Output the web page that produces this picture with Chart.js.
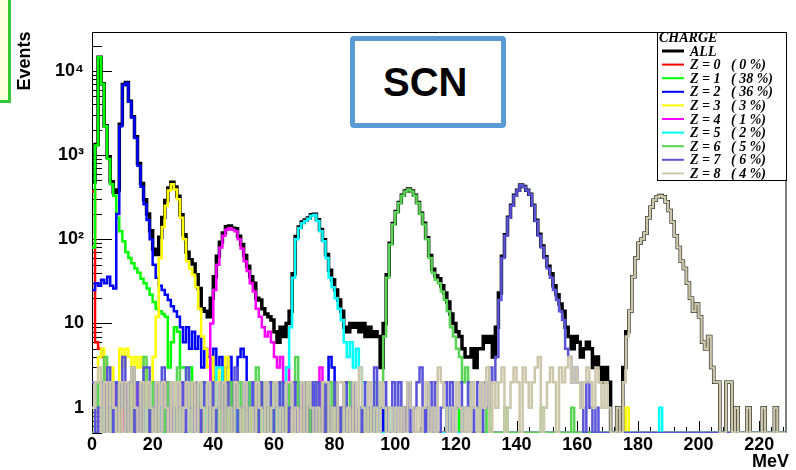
<!DOCTYPE html>
<html>
<head>
<meta charset="utf-8">
<script src="https://cdn.jsdelivr.net/npm/chart.js@4.4.1/dist/chart.umd.min.js"></script>
<style>
  html, body { margin: 0; padding: 0; background: #fff; }
  #wrap { position: relative; width: 796px; height: 470px; overflow: hidden; }
  #chart { position: absolute; left: 0; top: 0; }
  .tag { position: absolute; left: -20px; top: -20px; width: 25px; height: 117px; border: 3px solid #36c836; background: #ffffe0; }
  .scn { position: absolute; left: 350px; top: 36px; width: 146px; height: 82px; border: 5px solid #5b9bd5; border-radius: 4px; background: #fff; }
  .scn span { position: absolute; left: 28px; top: 21px; font: bold 40px 'Liberation Sans', Arial, sans-serif; line-height: 40px; color: #000; }
</style>
</head>
<body>
<div id="wrap">
  <canvas id="chart" width="796" height="470"></canvas>
  <div class="tag"></div>
  <div class="scn"><span>SCN</span></div>
</div>
<script>
// 1 MeV bins, 0..229 MeV
const NBINS = 229;
const Y_MIN = 0.5;
const Y_MAX = 29000;

const xTickValues = [0, 20, 40, 60, 80, 100, 120, 140, 160, 180, 200, 220];
const yTickValues = [1, 10, 100, 1000, 10000];
const yTickLabels = ['1', '10', '10²', '10³', '10⁴'];

const seriesNames = ['ALL', 'Z = 0', 'Z = 1', 'Z = 2', 'Z = 3', 'Z = 4', 'Z = 5', 'Z = 6', 'Z = 7', 'Z = 8'];
const seriesShares = ['', '( 0 %)', '( 38 %)', '( 36 %)', '( 3 %)', '( 1 %)', '( 2 %)', '( 5 %)', '( 6 %)', '( 4 %)'];
const seriesColors = ['#000000', '#ff0000', '#00ff00', '#0000ff', '#ffff00', '#ff00ff', '#00ffff', '#59d454', '#5954d9', '#ccc6aa'];

// counts per bin (bins not listed are empty)
const countsAll = [
  480, 1340, 14540, 7040, 2235, 940, 482, 360, 385, 2330, 6900, 7280, 4370, 2860, 1650, 795, 460, 295, 200, 126,
  76, 66, 106, 182, 288, 406, 476, 417, 324, 196, 113, 70, 57, 51, 38, 26, 15, 14, 12, 20,
  36, 63, 92, 119, 141, 144, 135, 133, 109, 87, 64, 48, 36, 30, 20, 19, 15, 13, 12, 11,
  8, 6, 9, 7, 10, 14, 39, 108, 140, 161, 170, 179, 196, 199, 171, 131, 99, 66, 43, 33,
  25, 19, 14, 9, 8, 10, 9, 10, 8, 10, 7, 9, 7, 8, 7, 3, 10, 38, 90, 154,
  214, 274, 334, 374, 395, 374, 334, 274, 204, 155, 104, 64, 44, 37, 34, 28, 23, 18, 13, 10,
  8, 7, 5, 4, 4, 5, 3, 5, 5, 7, 6, 7, 4, 9, 23, 63, 113, 183, 253, 333,
  383, 443, 423, 383, 343, 253, 168, 115, 83, 62, 48, 39, 28, 22, 17, 14, 9, 7, 5, 7,
  6, 4, 5, 6, 5, 3, 4, 3, 2, 3, 2, 0, 0, 1, 0, 3, 8, 14, 36, 60,
  90, 100, 118, 180, 240, 290, 320, 331, 320, 280, 220, 160, 110, 80, 55, 45, 30, 20, 14, 17,
  12, 6, 5, 7, 3, 2, 2, 0, 0, 2, 2, 0, 1, 0, 0, 0, 1, 0, 0, 0,
  0, 1, 0, 0, 0, 1, 0, 0, 0
];
const countsZ0 = [370, 6, 5, 4, 1, 0, 1, 0, 0, 1, 0, 0, 0, 1];
const countsZ1 = [
  80, 1300, 14500, 7000, 2200, 900, 450, 330, 180, 125, 95, 70, 60, 52, 45, 40, 34, 30, 26, 22,
  18, 15, 14, 13, 12, 3, 6, 9, 8, 3, 3, 2, 3, 1, 2, 0, 1, 0, 1, 0,
  0, 1, 0, 0, 1, 0, 0, 0, 1, 0, 0, 0, 1, 0, 0, 0, 0, 1, 0, 0,
  0, 0, 0, 1, 0, 0, 0, 0, 0, 0, 1, 0, 0, 0, 0, 0, 0, 0, 1, 0,
  0, 0, 0, 0, 0, 0, 0, 0, 0, 0, 0, 0, 0, 0, 0, 0, 1, 0, 0, 0,
  0, 0, 0, 0, 0, 0, 0, 0, 0, 0, 0, 0, 0, 0, 0, 0, 0, 0, 0, 0,
  0, 1, 0, 0, 0, 0, 0, 0, 0, 0, 1
];
const countsZ2 = [
  25, 30, 28, 33, 30, 36, 28, 26, 200, 2200, 6800, 7200, 4300, 2800, 1600, 750, 420, 260, 170, 100,
  50, 35, 28, 25, 22, 19, 16, 14, 12, 9, 6, 9, 5, 8, 5, 7, 3, 5, 4, 2,
  5, 3, 4, 2, 3, 4, 1, 2, 4, 5, 4, 2, 1, 2, 0, 1, 2, 1, 0, 1,
  0, 2, 1, 0, 1, 0, 0, 2, 1, 0, 1, 0, 2, 0, 1, 0, 0, 1, 4, 3,
  1, 0, 0, 1, 0, 0, 2, 0, 0, 1, 0, 0, 1, 0, 0, 0, 1, 0, 0, 0,
  0, 0, 0, 1, 0, 0, 0, 0, 0, 0, 1, 0, 0, 0, 0, 0, 0, 0, 1
];
const countsZ3 = [
  0, 1, 4, 5, 2, 1, 3, 0, 2, 5, 3, 5, 4, 1, 4, 3, 4, 3, 1, 2,
  4, 12, 60, 140, 250, 380, 450, 390, 300, 180, 100, 55, 45, 38, 27, 15, 7, 5, 3, 4,
  2, 3, 1, 2, 4, 1, 0, 2, 1, 0, 1, 0, 1, 0, 0, 2, 0, 1, 0, 0,
  1, 0, 0, 0, 1, 0, 0, 0, 0, 1, 0, 0, 0, 0, 0, 0, 1, 0, 0, 0,
  0, 0, 0, 0, 0, 0, 0, 0, 0, 0, 0, 1, 0, 0, 0, 0, 0, 0, 0, 0,
  0, 0, 0, 0, 0, 0, 0, 0, 0, 0, 0, 0, 0, 0, 0, 0, 0, 0, 0, 0,
  0, 0, 0, 0, 0, 0, 0, 0, 0, 0, 0, 0, 0, 0, 0, 0, 0, 0, 0, 0,
  0, 0, 0, 0, 0, 0, 0, 0, 0, 0, 0, 0, 0, 0, 0, 0, 0, 0, 0, 0,
  0, 0, 0, 0, 0, 0, 0, 0, 0, 0, 0, 0, 0, 0, 0, 0, 1
];
const countsZ4 = [
  0, 0, 1, 0, 2, 1, 0, 2, 0, 0, 2, 0, 1, 0, 2, 0, 1, 0, 0, 1,
  0, 2, 0, 0, 2, 0, 1, 0, 0, 2, 1, 0, 0, 2, 0, 1, 0, 0, 1, 10,
  25, 50, 80, 110, 130, 135, 130, 125, 100, 78, 55, 42, 30, 24, 15, 12, 9, 7, 8, 6,
  4, 3, 4, 2, 3, 1, 0, 1, 0, 2, 0, 1, 0, 0, 1, 3, 0, 2, 0, 0,
  0, 1, 0, 0, 0, 0, 1, 0, 0, 0, 0, 1
];
const countsZ5 = [
  0, 0, 0, 1, 0, 0, 1, 0, 0, 0, 0, 1, 0, 0, 0, 0, 0, 1, 0, 0,
  0, 0, 1, 0, 0, 0, 0, 0, 1, 0, 0, 0, 1, 0, 0, 0, 0, 1, 0, 0,
  0, 3, 3, 1, 0, 0, 0, 1, 0, 0, 0, 1, 0, 0, 0, 0, 1, 0, 0, 0,
  1, 0, 2, 2, 3, 9, 35, 100, 135, 155, 165, 175, 190, 195, 165, 125, 95, 60, 35, 27,
  20, 15, 11, 6, 4, 6, 3, 5, 3, 2, 1, 0, 0, 1, 0, 0, 0, 0, 1, 0,
  0, 0, 0, 0, 0, 0, 0, 0, 0, 0, 0, 0, 0, 0, 0, 0, 0, 1, 0, 0,
  0, 0, 0, 0, 0, 0, 0, 0, 0, 0, 0, 0, 0, 0, 0, 0, 0, 0, 0, 0,
  0, 0, 0, 0, 0, 0, 0, 0, 0, 0, 0, 0, 0, 0, 0, 0, 0, 0, 0, 0,
  0, 0, 0, 0, 0, 0, 0, 0, 0, 0, 0, 0, 0, 0, 0, 0, 0, 0, 0, 0,
  0, 0, 0, 0, 0, 0, 0, 1
];
const countsZ6 = [
  0, 2, 1, 0, 4, 0, 2, 2, 0, 2, 1, 0, 2, 0, 2, 2, 0, 4, 1, 0,
  2, 0, 2, 2, 0, 2, 1, 0, 3, 0, 1, 2, 0, 2, 2, 0, 2, 1, 0, 2,
  1, 0, 2, 0, 2, 2, 0, 1, 2, 0, 2, 2, 0, 1, 3, 0, 2, 1, 0, 2,
  0, 2, 2, 0, 2, 1, 0, 4, 1, 0, 2, 0, 2, 2, 0, 1, 2, 0, 2, 0,
  2, 0, 1, 0, 2, 0, 1, 0, 0, 1, 0, 1, 0, 2, 1, 2, 7, 35, 87, 150,
  210, 270, 330, 370, 390, 370, 330, 270, 200, 150, 100, 60, 40, 33, 30, 24, 19, 14, 9, 7,
  5, 4, 2, 3, 1, 0, 0, 1, 0, 0, 1, 0, 0, 0, 0, 0, 1, 0, 0, 0,
  0, 0, 0, 0, 0, 0, 0, 0, 1, 0, 0, 0, 0, 0, 0, 0, 0, 0, 1
];
const countsZ7 = [
  2, 0, 1, 2, 0, 3, 1, 0, 2, 1, 4, 0, 2, 3, 0, 2, 0, 3, 3, 0,
  1, 2, 0, 3, 1, 0, 2, 0, 1, 2, 0, 3, 1, 0, 2, 0, 1, 2, 0, 2,
  0, 1, 2, 0, 2, 1, 0, 3, 0, 1, 2, 0, 1, 2, 0, 2, 1, 0, 2, 0,
  1, 2, 0, 2, 0, 1, 2, 0, 1, 2, 0, 1, 2, 0, 2, 1, 0, 2, 0, 1,
  2, 0, 1, 2, 0, 1, 2, 0, 1, 0, 2, 1, 0, 3, 0, 1, 2, 0, 0, 2,
  0, 2, 0, 1, 2, 0, 1, 2, 3, 0, 1, 2, 0, 2, 0, 1, 2, 0, 2, 0,
  1, 2, 0, 1, 2, 0, 1, 2, 0, 2, 1, 3, 2, 4, 19, 60, 110, 180, 250, 330,
  380, 440, 420, 380, 340, 250, 165, 110, 80, 60, 45, 35, 25, 19, 14, 11, 5, 4, 2, 3,
  2, 1, 0, 2, 1, 0, 1
];
const countsZ8 = [
  1, 2, 3, 0, 2, 0, 2, 1, 0, 2, 0, 2, 0, 3, 1, 0, 2, 0, 2, 1,
  0, 2, 0, 2, 1, 0, 2, 0, 2, 0, 1, 2, 0, 2, 0, 2, 1, 0, 2, 0,
  1, 2, 0, 2, 0, 1, 0, 2, 1, 0, 2, 0, 1, 0, 2, 1, 0, 2, 0, 1,
  2, 0, 1, 0, 2, 2, 0, 1, 0, 2, 0, 2, 1, 0, 1, 0, 2, 2, 0, 1,
  0, 2, 2, 0, 1, 0, 2, 0, 3, 1, 0, 2, 0, 1, 0, 2, 1, 0, 1, 0,
  1, 0, 1, 0, 2, 1, 0, 1, 0, 1, 2, 0, 1, 0, 3, 2, 1, 0, 1, 0,
  2, 1, 0, 1, 0, 2, 1, 0, 2, 1, 3, 0, 2, 1, 2, 3, 0, 1, 2, 3,
  2, 0, 3, 2, 1, 2, 3, 4, 0, 1, 2, 3, 2, 0, 3, 2, 3, 4, 2, 3,
  2, 1, 2, 3, 2, 1, 3, 2, 1, 2, 1, 0, 0, 1, 0, 2, 7, 14, 36, 60,
  90, 100, 118, 180, 240, 290, 320, 330, 320, 280, 220, 160, 110, 80, 55, 45, 30, 20, 14, 17,
  12, 6, 5, 7, 3, 2, 2, 0, 0, 2, 2, 0, 1, 0, 0, 0, 1, 0, 0, 0,
  0, 1, 0, 0, 0, 1, 0, 0, 0
];

const seriesCounts = [countsAll, countsZ0, countsZ1, countsZ2, countsZ3, countsZ4, countsZ5, countsZ6, countsZ7, countsZ8];

// histogram outline: one point per bin low edge plus the closing edge;
// empty bins sit on the bottom of the log axis
function toSteps(counts) {
  const pts = [];
  for (let i = 0; i < NBINS; i++) {
    const v = i < counts.length ? counts[i] : 0;
    pts.push({ x: i, y: v > 0 ? v : Y_MIN });
  }
  pts.push({ x: NBINS, y: pts[NBINS - 1].y });
  return pts;
}

const FONT = "'Liberation Sans', Arial, 'DejaVu Sans', sans-serif";
const SERIF = "'Liberation Serif', 'Times New Roman', serif";

const datasets = seriesCounts.map((counts, i) => ({
  label: seriesNames[i],
  data: toSteps(counts),
  borderColor: seriesColors[i],
  borderWidth: i === 0 ? 3.5 : 2.5,
  stepped: true,
  fill: false,
  pointRadius: 0,
  borderJoinStyle: 'miter',
  order: seriesCounts.length - i   // ALL underneath, Z = 8 on top
}));

const rootFrame = {
  id: 'rootFrame',
  beforeDatasetsDraw(chart) {
    const { ctx, chartArea: a, scales: { x, y } } = chart;
    ctx.save();
    ctx.strokeStyle = '#000';
    ctx.lineWidth = 1;
    ctx.beginPath();
    ctx.rect(a.left + 0.5, a.top + 0.5, a.right - a.left - 1, a.bottom - a.top - 1);
    // log ticks on the left, pointing inwards
    for (let e = -1; e <= 4; e++) {
      for (let m = 1; m <= 9; m++) {
        const v = m * Math.pow(10, e);
        if (v < Y_MIN || v > Y_MAX) continue;
        const py = Math.round(y.getPixelForValue(v)) + 0.5;
        ctx.moveTo(a.left, py);
        ctx.lineTo(a.left + (m === 1 ? 20 : 10), py);
      }
    }
    // MeV ticks along the bottom
    for (let t = 0; t <= NBINS; t += 4) {
      const px = Math.round(x.getPixelForValue(t)) + 0.5;
      ctx.moveTo(px, a.bottom);
      ctx.lineTo(px, a.bottom - (t % 20 === 0 ? 12 : 6));
    }
    ctx.stroke();
    ctx.restore();
  },
  afterDraw(chart) {
    const ctx = chart.ctx;
    ctx.save();
    ctx.fillStyle = '#000';

    // axis titles
    ctx.font = 'bold 18px ' + FONT;
    ctx.textAlign = 'center';
    ctx.textBaseline = 'middle';
    ctx.save();
    ctx.translate(25, 61);
    ctx.rotate(-Math.PI / 2);
    ctx.fillText('Events', 0, 0);
    ctx.restore();
    ctx.textAlign = 'right';
    ctx.textBaseline = 'alphabetic';
    ctx.fillText('MeV', 789, 467);

    // legend box
    ctx.fillStyle = '#fff';
    ctx.fillRect(657, 32, 130, 149);
    ctx.strokeStyle = '#000';
    ctx.lineWidth = 1;
    ctx.strokeRect(657.5, 32.5, 129, 148);
    ctx.fillStyle = '#000';
    ctx.textAlign = 'left';
    ctx.font = 'italic bold 14px ' + SERIF;
    ctx.fillText('CHARGE', 659, 41.5);
    seriesNames.forEach((name, i) => {
      const yb = 55.5 + i * 13.6;
      ctx.strokeStyle = seriesColors[i];
      ctx.lineWidth = i === 0 ? 3 : 2;
      ctx.beginPath();
      ctx.moveTo(662, yb - 4.5);
      ctx.lineTo(684, yb - 4.5);
      ctx.stroke();
      ctx.fillText(name, 690, yb);
      if (seriesShares[i]) ctx.fillText(seriesShares[i], 731, yb);
    });
    ctx.restore();
  }
};

new Chart(document.getElementById('chart'), {
  type: 'line',
  data: { datasets },
  options: {
    responsive: false,
    animation: false,
    events: [],
    layout: { padding: { left: 0, right: 9.5, top: 32, bottom: 0 } },
    plugins: { legend: { display: false }, tooltip: { enabled: false } },
    scales: {
      x: {
        type: 'linear',
        min: 0,
        max: NBINS,
        afterBuildTicks: s => { s.ticks = xTickValues.map(v => ({ value: v })); },
        afterFit: s => { s.height = 37; },
        grid: { display: false, drawTicks: false },
        border: { display: false },
        ticks: { color: '#000', font: { family: FONT, size: 18, weight: 'bold' }, padding: 1, maxRotation: 0, autoSkip: false }
      },
      y: {
        type: 'logarithmic',
        min: Y_MIN,
        max: Y_MAX,
        bounds: 'data',
        afterBuildTicks: s => { s.ticks = yTickValues.map(v => ({ value: v })); },
        afterFit: s => { s.width = 92; },
        grid: { display: false, drawTicks: false },
        border: { display: false },
        ticks: {
          color: '#000',
          font: { family: FONT, size: 18, weight: 'bold' },
          padding: 8,
          autoSkip: false,
          callback: v => yTickLabels[yTickValues.indexOf(v)]
        }
      }
    }
  },
  plugins: [rootFrame]
});
</script>
</body>
</html>
